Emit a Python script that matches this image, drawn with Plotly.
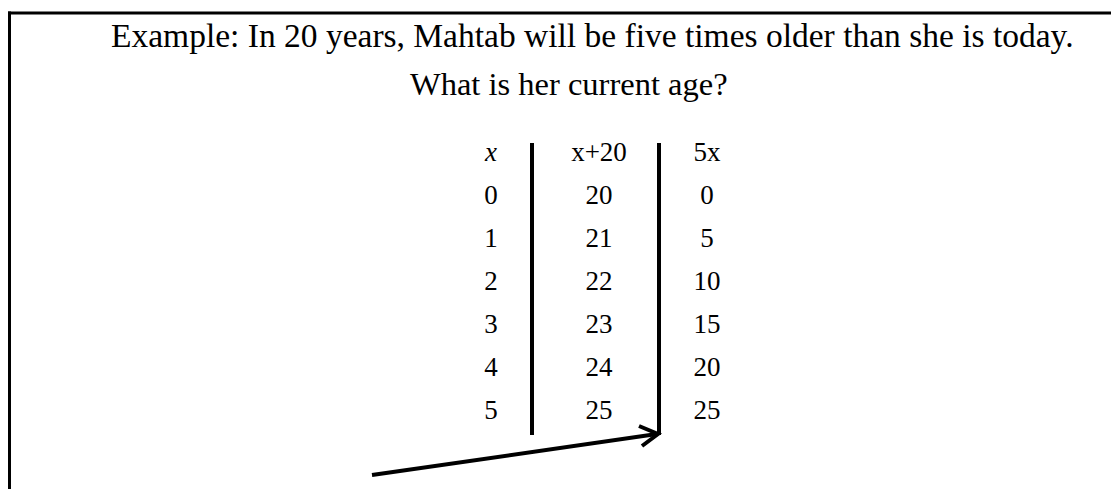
import plotly.graph_objects as go

# table data
headers = ["<i>x</i>", "x+20", "5x"]
x_values = [0, 1, 2, 3, 4, 5]
plus_twenty = [20, 21, 22, 23, 24, 25]
five_times = [0, 5, 10, 15, 20, 25]

title_line1 = "Example: In 20 years, Mahtab will be five times older than she is today."
title_line2 = "What is her current age?"

W, H = 1119, 489
OFF = 8  # page body margin, so drawing coords below are page pixels
SERIF = "Liberation Serif, Times New Roman, serif"

fig = go.Figure()

# header row
fig.add_trace(go.Scatter(
    x=list(range(len(headers))), y=[0] * len(headers),
    mode="text", text=headers,
    textfont=dict(family=SERIF, size=27, color="black"),
    xaxis="x2", yaxis="y2", hoverinfo="skip", showlegend=False
))

# one trace per column
for col, vals in enumerate([x_values, plus_twenty, five_times]):
    fig.add_trace(go.Scatter(
        x=[col] * len(vals), y=list(range(1, len(vals) + 1)),
        mode="text", text=[str(v) for v in vals],
        textfont=dict(family=SERIF, size=27, color="black"),
        xaxis="x2", yaxis="y2", hoverinfo="skip", showlegend=False
    ))

line = dict(color="black", width=3)
shapes = [
    # frame (top and left edges)
    dict(type="line", xref="x", yref="y", x0=8, x1=W + OFF, y0=13, y1=13, line=line),
    dict(type="line", xref="x", yref="y", x0=9.5, x1=9.5, y0=11.5, y1=H + OFF, line=line),
    # column separators
    dict(type="line", xref="x", yref="y", x0=532, x1=532, y0=143, y1=435, line=dict(color="black", width=4)),
    dict(type="line", xref="x", yref="y", x0=659, x1=659, y0=143, y1=435, line=dict(color="black", width=4)),
    # arrow
    dict(type="line", xref="x", yref="y", x0=372, x1=657, y0=475, y1=434, line=dict(color="black", width=4)),
    dict(type="path", xref="x", yref="y", path="M 639 426 L 658 434 L 642 446",
         line=dict(color="black", width=4)),
]

annotations = [
    dict(text=title_line1, x=109, y=35, xref="x", yref="y", xanchor="left", yanchor="middle",
         showarrow=False, font=dict(family=SERIF, size=33.5, color="black")),
    dict(text=title_line2, x=408, y=84, xref="x", yref="y", xanchor="left", yanchor="middle",
         showarrow=False, font=dict(family=SERIF, size=32.5, color="black")),
]


def dom_x(a, b):
    return [(a - OFF) / W, (b - OFF) / W]


def dom_y(top, bottom):
    return [1 - (bottom - OFF) / H, 1 - (top - OFF) / H]


fig.update_layout(
    width=W, height=H,
    margin=dict(l=0, r=0, t=0, b=0, pad=0),
    plot_bgcolor="white", paper_bgcolor="white",
    xaxis=dict(range=[OFF, W + OFF], visible=False, fixedrange=True, domain=[0, 1]),
    yaxis=dict(range=[H + OFF, OFF], visible=False, fixedrange=True, domain=[0, 1]),
    xaxis2=dict(range=[-0.5, 2.5], domain=dom_x(437, 761), visible=False,
                anchor="y2", fixedrange=True),
    yaxis2=dict(range=[6.5, -0.5], domain=dom_y(132.5, 433.5), visible=False,
                anchor="x2", fixedrange=True),
    shapes=shapes,
    annotations=annotations,
    showlegend=False,
)

fig.write_html("out.html")
